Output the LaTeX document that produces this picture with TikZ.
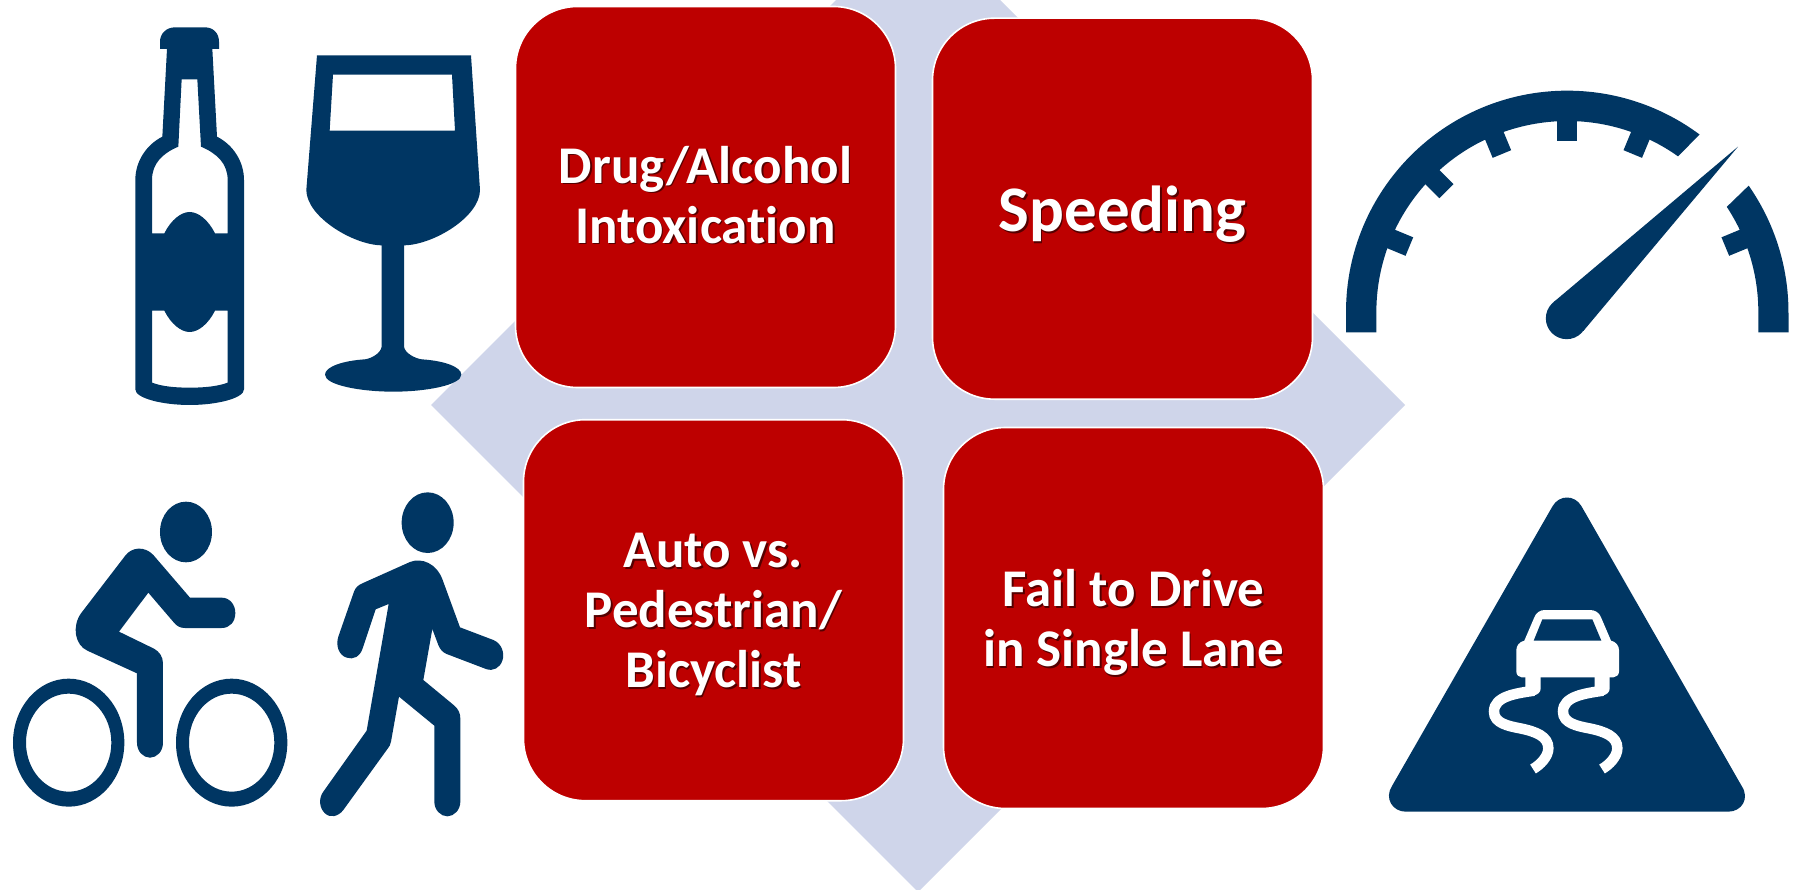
\documentclass[tikz,border=0pt]{standalone}
\usepackage{fontspec}
\setmainfont{Carlito}[Ligatures=NoCommon]
\definecolor{navy}{HTML}{003663}
\definecolor{boxred}{HTML}{BD0000}
\definecolor{diam}{HTML}{CFD5EA}
\tikzset{
  icon/.style={fill=navy,draw=none,even odd rule},
  redbox/.style={rectangle,rounded corners=62pt,minimum width=380pt,minimum height=381pt,inner sep=0pt,
    fill=boxred,draw=white,line width=1.6pt},
  lab/.style={inner sep=0pt,align=center,text=white,font=\fontsize{53}{60}\selectfont\bfseries},
  labshadow/.style={lab,text=black,text opacity=0.55},
  big/.style={font=\fontsize{65}{60}\selectfont\bfseries},
  zoomed/.style={scale=1/3},
}
\begin{document}
\begin{tikzpicture}[x=1pt,y=1pt,yscale=-1]
\useasboundingbox (0,0) rectangle (1804,890);
\fill[white] (0,0) rectangle (1804,890);
% diamond
\begin{scope}
\clip (0,0) rectangle (1804,890);
\fill[diam] (431,405) -- (918,-82) -- (1405,405) -- (918,892) -- cycle;
\end{scope}
% boxes
\node[redbox] (b1) at (705.5,197) {};
\node[redbox] (b2) at (1122.5,208.7) {};
\node[redbox] (b3) at (713.5,610.2) {};
\node[redbox] (b4) at (1133.5,618) {};
% text shadows and labels
\node[labshadow] at ([shift={(1.5,-0.5)}]b1.center) {Drug/Alcohol\\Intoxication};
\node[lab] (t1) at ([shift={(0,-2)}]b1.center) {Drug/Alcohol\\Intoxication};
\node[labshadow,big] at ([shift={(1.5,7.5)}]b2.center) {Speeding};
\node[lab,big] (t2) at ([shift={(0,6)}]b2.center) {Speeding};
\node[labshadow] at ([shift={(1.5,5.8)}]b3.center) {Auto vs.\\Pedestrian/\\Bicyclist};
\node[lab] (t3) at ([shift={(0,4.3)}]b3.center) {Auto vs.\\Pedestrian/\\Bicyclist};
\node[labshadow] at ([shift={(1.5,6)}]b4.center) {Fail to Drive\\in Single Lane};
\node[lab] (t4) at ([shift={(0,4.5)}]b4.center) {Fail to Drive\\in Single Lane};
% bottle + glass
\begin{scope}[shift={(100,0)},zoomed]
\fill[icon] (180,147) -- (180,125) .. controls (180,100) and (200,82) .. (225,82) -- (315,82)
 .. controls (340,82) and (357,100) .. (357,125) -- (357,147) -- (337,147) -- (351,410)
 .. controls (400,435) and (432,485) .. (432,540) -- (432,1168)
 .. controls (432,1195) and (350,1215) .. (269,1215) .. controls (188,1215) and (106,1195) .. (106,1168)
 -- (106,540) .. controls (106,485) and (138,435) .. (187,410) -- (201,147) -- cycle
 (245,238) -- (292,238) -- (303,440) .. controls (350,460) and (383,490) .. (383,540) -- (383,700) -- (345,700)
 .. controls (325,660) and (295,636) .. (269,636) .. controls (243,636) and (213,660) .. (193,700) -- (156,700)
 -- (156,540) .. controls (156,490) and (188,460) .. (235,440) -- cycle
 (156,932) -- (193,932) .. controls (213,972) and (243,996) .. (269,996) .. controls (295,996) and (325,972) .. (345,932)
 -- (383,932) -- (383,1148) .. controls (350,1160) and (310,1163) .. (269,1163) .. controls (228,1163) and (188,1160) .. (156,1148) -- cycle;
\fill[icon] (651,166) -- (1113,166) -- (1140,570) .. controls (1140,650) and (1000,735) .. (912,736) -- (912,1040)
 .. controls (915,1060) and (945,1075) .. (965,1078) .. controls (1030,1082) and (1084,1100) .. (1084,1124)
 .. controls (1084,1155) and (980,1175) .. (880,1175) .. controls (780,1175) and (675,1155) .. (675,1124)
 .. controls (675,1100) and (730,1082) .. (795,1078) .. controls (815,1075) and (842,1060) .. (845,1040) -- (845,736)
 .. controls (760,735) and (619,650) .. (619,570) -- cycle
 (699,224) -- (1056,224) -- (1065,392) -- (689,392) -- cycle;
\end{scope}
% cyclist + walker
\begin{scope}[shift={(0,470)},zoomed]
\fill[icon] (206,818) ellipse[x radius=167,y radius=192] (206,818) ellipse[x radius=128,y radius=147];
\fill[icon] (695,818) ellipse[x radius=167,y radius=192] (695,818) ellipse[x radius=128,y radius=147];
\fill[icon] (558,186) ellipse[x radius=78,y radius=91];
\fill[icon] (1283,158) ellipse[x radius=78,y radius=91];
\fill[icon] (375,258) .. controls (395,230) and (435,228) .. (460,255) -- (570,383) -- (665,383)
 .. controls (690,383) and (706,405) .. (706,429) .. controls (706,455) and (690,474) .. (665,474) -- (555,474)
 .. controls (540,474) and (530,468) .. (522,458) -- (445,368) -- (357,485) -- (462,536)
 .. controls (478,545) and (489,560) .. (489,580) -- (489,818) .. controls (489,845) and (470,863) .. (450,863)
 .. controls (430,863) and (411,845) .. (411,818) -- (411,610) -- (262,542) .. controls (225,525) and (215,470) .. (243,430) -- cycle;
\fill[icon] (1087,340) -- (1230,276) .. controls (1265,262) and (1310,280) .. (1328,330) -- (1380,472) -- (1480,510)
 .. controls (1505,520) and (1515,550) .. (1507,572) .. controls (1500,593) and (1480,605) .. (1458,597) -- (1340,552)
 .. controls (1328,547) and (1320,538) .. (1315,525) -- (1297,477) -- (1270,630) -- (1362,706)
 .. controls (1375,717) and (1381,730) .. (1381,745) -- (1381,995) .. controls (1381,1020) and (1362,1039) .. (1342,1039)
 .. controls (1322,1039) and (1303,1020) .. (1303,995) -- (1303,767) -- (1197,680) -- (1173,815)
 .. controls (1171,825) and (1168,830) .. (1163,836) -- (1030,1020) .. controls (1015,1040) and (990,1045) .. (975,1030)
 .. controls (958,1015) and (955,985) .. (970,965) -- (1100,782) -- (1166,402) -- (1127,418) -- (1088,535)
 .. controls (1080,560) and (1060,570) .. (1040,563) .. controls (1015,555) and (1007,525) .. (1015,500) -- (1062,365)
 .. controls (1067,352) and (1075,345) .. (1087,340) -- cycle;
\end{scope}
% speedometer
\begin{scope}[shift={(1330,70)},zoomed]
\fill[icon] (48,787) -- (48,726) arc[start angle=180,end angle=306.7,radius=664] -- (1044,259)
 arc[start angle=305.4,end angle=180,radius=573] -- (139,787) -- cycle;
\fill[icon] (1256,347) arc[start angle=-34.9,end angle=0,radius=664] -- (1376,787) -- (1285,787) -- (1285,726)
 arc[start angle=0,end angle=-33.4,radius=573] -- cycle;
\foreach \a in {-67.5,-45,-22.5,0,22.5,67.5}
  \fill[icon,shift={(712,726)},rotate=\a] (-30,-513) rectangle (30,-590);
\fill[icon] (1224,230) -- (670,697) -- (760,783) -- cycle;
\fill[icon] (710,745) circle[radius=62.5];
\end{scope}
% slippery-road sign
\begin{scope}[shift={(1370,490)},zoomed]
\fill[icon] (548,48) .. controls (568,14) and (614,14) .. (634,48) -- (1115,888)
 .. controls (1140,925) and (1115,965) .. (1075,965) -- (107,965)
 .. controls (68,965) and (42,925) .. (66,888) -- cycle;
\fill[white] (463,452) -- (493,382) .. controls (498,368) and (510,360) .. (525,360) -- (660,360)
 .. controls (675,360) and (688,368) .. (693,382) -- (723,452) .. controls (738,455) and (747,468) .. (747,480)
 -- (747,545) .. controls (747,555) and (738,562) .. (730,562) -- (455,562) .. controls (447,562) and (439,555) .. (439,545)
 -- (439,480) .. controls (439,468) and (448,455) .. (463,452) -- cycle;
\fill[navy] (517,388) -- (667,388) -- (694,452) -- (491,452) -- cycle;
\fill[white] (466,555) -- (512,555) -- (512,595) .. controls (512,607) and (503,614) .. (492,616) -- (466,616) -- cycle;
\fill[white] (674,555) -- (719,555) -- (719,595) .. controls (719,607) and (710,614) .. (699,616) -- (674,616) -- cycle;
\draw[white,line width=10.5pt] (492,602) .. controls (440,610) and (372,618) .. (372,665)
 .. controls (372,700) and (415,708) .. (450,715) .. controls (500,725) and (535,740) .. (535,775)
 .. controls (535,800) and (510,825) .. (489,837);
\draw[white,line width=10.5pt] (699,602) .. controls (647,610) and (579,618) .. (579,665)
 .. controls (579,700) and (622,708) .. (657,715) .. controls (707,725) and (742,740) .. (742,775)
 .. controls (742,800) and (717,825) .. (696,837);
\end{scope}
\end{tikzpicture}
\end{document}
